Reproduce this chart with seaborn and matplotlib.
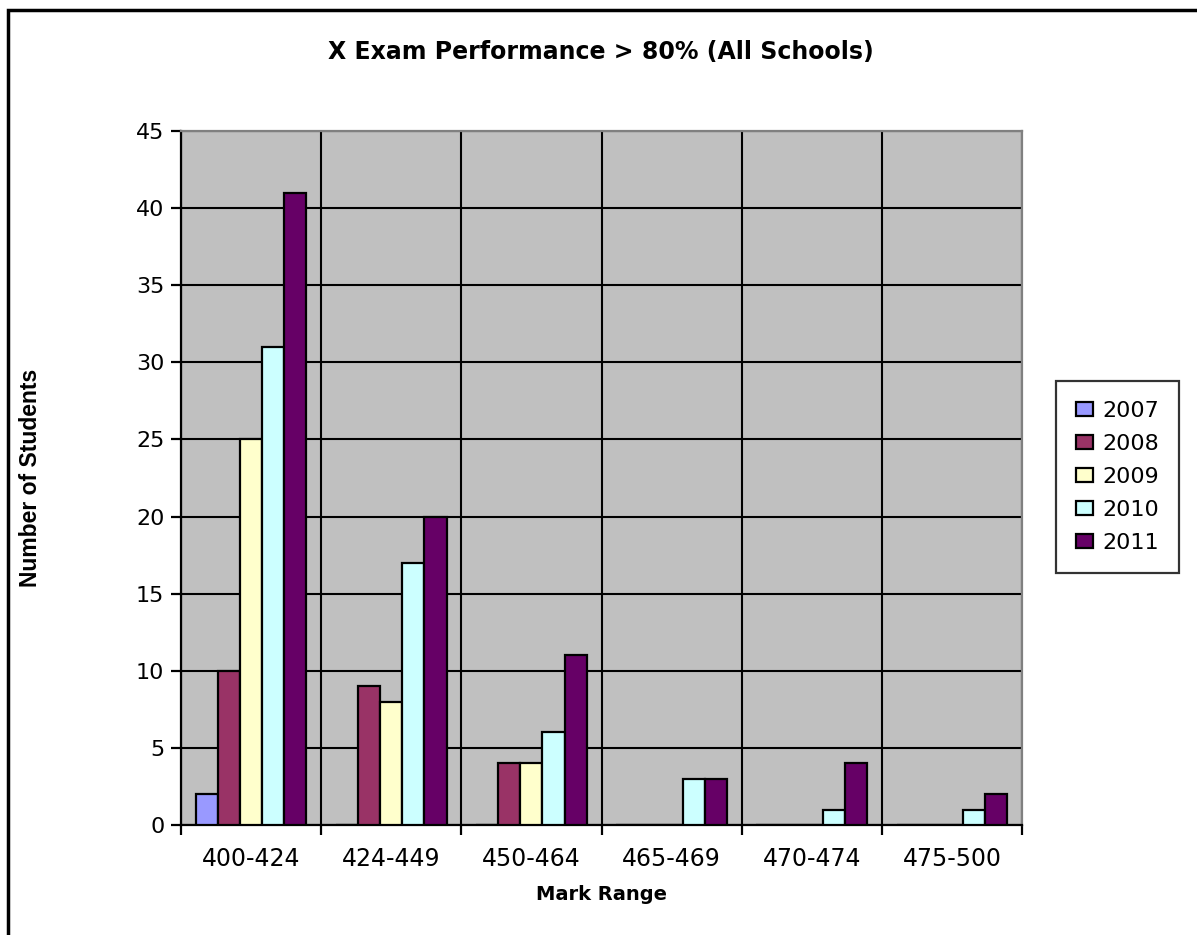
import numpy as np
import pandas as pd
import matplotlib
matplotlib.use("Agg")
import matplotlib.pyplot as plt
from matplotlib.patches import Rectangle
import seaborn as sns

# chart data
mark_ranges = ["400-424", "424-449", "450-464", "465-469", "470-474", "475-500"]
years = ["2007", "2008", "2009", "2010", "2011"]
students_2007 = [2, 0, 0, 0, 0, 0]
students_2008 = [10, 9, 4, 0, 0, 0]
students_2009 = [25, 8, 4, 0, 0, 0]
students_2010 = [31, 17, 6, 3, 1, 1]
students_2011 = [41, 20, 11, 3, 4, 2]
year_colors = ["#9999FF", "#993366", "#FFFFCC", "#CCFFFF", "#660066"]

series = [students_2007, students_2008, students_2009, students_2010, students_2011]
df = pd.DataFrame({
    "range": mark_ranges * len(years),
    "year": np.repeat(years, len(mark_ranges)),
    "students": np.concatenate(series),
})

sns.set_style("white")
plt.rcParams["font.family"] = ["DejaVu Sans"]
plt.rcParams["text.color"] = "black"
plt.rcParams["axes.labelcolor"] = "black"
plt.rcParams["xtick.color"] = "black"
plt.rcParams["ytick.color"] = "black"

fig = plt.figure(figsize=(11.97, 9.35), dpi=100)
ax = fig.add_axes([181 / 1197, 1 - 825 / 935, 841 / 1197, 694 / 935])
ax.set_facecolor("#C0C0C0")

sns.barplot(
    data=df, x="range", y="students", hue="year",
    order=mark_ranges, hue_order=years, palette=year_colors,
    width=0.79, edgecolor="black", linewidth=1.6, saturation=1,
    ax=ax, zorder=3,
)

# axes and grid
ax.set_xlim(-0.5, len(mark_ranges) - 0.5)
ax.set_ylim(0, 45)
ax.set_yticks(np.arange(0, 46, 5))
ax.set_xticks(np.arange(len(mark_ranges) + 1) - 0.5, minor=True)
ax.grid(axis="y", which="major", color="black", linewidth=1.5, zorder=1)
ax.grid(axis="x", which="minor", color="black", linewidth=1.5, zorder=1)
ax.set_axisbelow(True)
ax.tick_params(axis="x", which="major", length=0, pad=16, labelsize=17)
ax.tick_params(axis="x", which="minor", length=7, width=1.6, direction="out", color="black")
ax.tick_params(axis="y", length=7, width=1.6, direction="out", color="black", pad=5, labelsize=16)
ax.xaxis.set_ticks_position("bottom")
ax.yaxis.set_ticks_position("left")

for side in ["left", "bottom"]:
    ax.spines[side].set_color("black")
    ax.spines[side].set_linewidth(1.6)
for side in ["top", "right"]:
    ax.spines[side].set_color("#808080")
    ax.spines[side].set_linewidth(1.6)

ax.set_xlabel("Mark Range", fontsize=14, fontweight="bold")
ax.xaxis.set_label_coords(0.5, -0.086)
ax.set_ylabel("Number of Students", fontsize=16.5, fontweight="bold",
              family=["Liberation Sans Narrow", "Liberation Sans"])
ax.yaxis.set_label_coords(-0.165, 0.5)

fig.text(601 / 1197, 1 - 52 / 935, "X Exam Performance > 80% (All Schools)",
         ha="center", va="center", fontsize=17, fontweight="bold")

# legend
handles, labels = ax.get_legend_handles_labels()
ax.legend_.remove()
leg = fig.legend(
    handles, labels, loc="center left", bbox_to_anchor=(1056 / 1197, 1 - 477 / 935),
    frameon=True, fancybox=False, edgecolor="black", fontsize=16,
    handlelength=0.75, handleheight=0.6, handletextpad=0.45, labelspacing=0.58,
    borderpad=0.9, borderaxespad=0,
)
leg.get_frame().set_linewidth(1.6)
leg.get_frame().set_edgecolor("black")

# outer chart border
fig.patches.append(Rectangle((8 / 1197, -0.1), 1.2, 1 - 10 / 935 + 0.1,
                             transform=fig.transFigure, fill=False,
                             edgecolor="black", linewidth=2.5))

fig.savefig("out.png", dpi=100)
